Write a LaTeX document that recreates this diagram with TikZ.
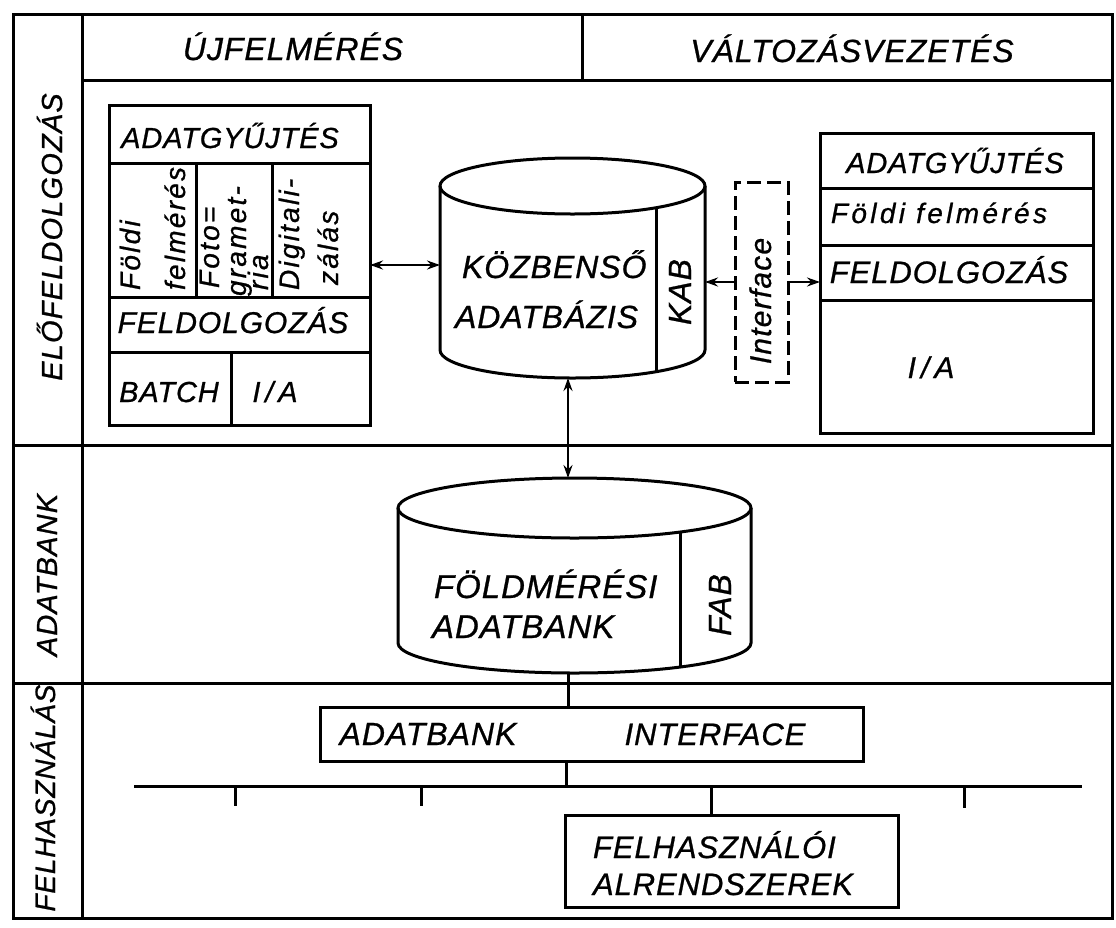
\documentclass[tikz,border=0pt]{standalone}
\usepackage{fontspec}
\setmainfont{Liberation Sans}
\usetikzlibrary{arrows.meta}
\newcommand{\fs}[2][0]{\fontsize{#2}{#2}\selectfont\itshape\addfontfeature{LetterSpace=#1,FakeBold=0.8}}
\begin{document}
\begin{tikzpicture}[x=1pt,y=-1pt,
  ln/.style={line width=3pt},
  frame/.style={draw, line width=3pt, inner sep=0pt, outer sep=0pt},
  ghost/.style={inner sep=0pt, outer sep=0pt},
  txt/.style={inner sep=0pt, outer sep=0pt, anchor=base},
  txtw/.style={inner sep=0pt, outer sep=0pt, anchor=base west},
  rtxt/.style={inner sep=0pt, outer sep=0pt, anchor=base, rotate=90},
  rtxtw/.style={inner sep=0pt, outer sep=0pt, anchor=base west, rotate=90},
  cell/.style={rtxtw, font={\fs[8]{28}}},
  tip/.style={line width=2.4pt},
  >={Stealth[length=13pt,width=9pt]},
]
\useasboundingbox (0,0) rectangle (1116,927);
% outer grid
\draw[ln] (13,14) rectangle (1112,918);
\draw[ln] (82,14) -- (82,918);
\draw[ln] (82,80) -- (1112,80);
\draw[ln] (582,14) -- (582,80);
\draw[ln] (13,445) -- (1112,445);
\draw[ln] (13,683) -- (1112,683);
% header labels
\node[txt, font={\fs[3]{32}}] (hnew) at (293,60) {ÚJFELMÉRÉS};
\node[txt, font={\fs[3]{32}}] (hchg) at (852,62) {VÁLTOZÁSVEZETÉS};
% side labels
\node[rtxt, font={\fs[4]{29}}] (sPre) at (62,237) {ELŐFELDOLGOZÁS};
\node[rtxt, font={\fs[4]{29}}] (sBank) at (57,575) {ADATBANK};
\node[rtxt, font={\fs[3]{28}}] (sUse) at (55,798) {FELHASZNÁLÁS};
% left box
\node[frame, minimum width=261pt, minimum height=320pt] (lbox) at (239.5,265) {};
\draw[ln] (109,163) -- (370,163);
\draw[ln] (109,297) -- (370,297);
\draw[ln] (109,352) -- (370,352);
\draw[ln] (196,163) -- (196,297);
\draw[ln] (272,163) -- (272,297);
\draw[ln] (231,352) -- (231,425);
\node[txt, font={\fs[3]{29}}] (lcoll) at (230,148) {ADATGYŰJTÉS};
\node[txt, font={\fs[3]{30}}] (lproc) at (233,333) {FELDOLGOZÁS};
\node[txt, font={\fs[3]{29}}] (lbatch) at (169,402) {BATCH};
\node[txt, font={\fs[3]{29}}] (lia) at (275,402) {I\,/\,A};
\node[cell] (c1a) at (140,290) {Földi};
\node[cell] (c1b) at (185,290) {felmérés};
\node[cell] (c2a) at (219,288) {Foto=};
\node[cell] (c2b) at (246,296) {gramet-};
\node[cell] (c2c) at (268,290) {ria};
\node[cell] (c3a) at (299,290) {Digitali-};
\node[cell] (c3b) at (338,285) {zálás};
% KOZBENSO cylinder
\draw[ln] (572.5,186) ellipse [x radius=132.5pt, y radius=28pt];
\draw[ln] (440,186) -- (440,350) arc[start angle=180, end angle=360, x radius=132.5pt, y radius=28pt] -- (705,186);
\draw[ln] (656,207.7) -- (656,371.7);
\node[ghost, minimum width=265pt, minimum height=220pt] (kabn) at (572.5,268) {};
\node[txtw, font={\fs[3]{32}}] (k1) at (462,278) {KÖZBENSŐ};
\node[txtw, font={\fs[3]{32}}] (k2) at (455,328) {ADATBÁZIS};
\node[rtxt, font={\fs[3]{32}}] (kab) at (691,292) {KAB};
% interface
\node[frame, dash pattern=on 14pt off 6pt, minimum width=53pt, minimum height=200pt] (iface) at (761.5,282) {};
\node[rtxt, font={\fs[4]{30}}] (ifl) at (771,301) {Interface};
% right box
\node[frame, minimum width=273pt, minimum height=300pt] (rbox) at (956.5,283) {};
\draw[ln] (820,188) -- (1093,188);
\draw[ln] (820,245) -- (1093,245);
\draw[ln] (820,300) -- (1093,300);
\node[txt, font={\fs[3]{29}}] (rcoll) at (955,173) {ADATGYŰJTÉS};
\node[txt, font={\fs[12]{28}}] (rfld) at (939,223) {Földi felmérés};
\node[txt, font={\fs[3]{31}}] (rproc) at (949,283) {FELDOLGOZÁS};
\node[txt, font={\fs[3]{30}}] (ria) at (931,378) {I\,/\,A};
% FOLDMERESI cylinder
\draw[ln] (574.5,508) ellipse [x radius=176.5pt, y radius=30pt];
\draw[ln] (398,508) -- (398,643) arc[start angle=180, end angle=360, x radius=176.5pt, y radius=30pt] -- (751,508);
\draw[ln] (680,532.1) -- (680,667.1);
\node[ghost, minimum width=353pt, minimum height=195pt] (fabn) at (574.5,575.5) {};
\node[txtw, font={\fs[3]{33}}] (f1) at (434,598) {FÖLDMÉRÉSI};
\node[txtw, font={\fs[3]{33}}] (f2) at (432,638) {ADATBANK};
\node[rtxt, font={\fs[3]{32}}] (fab) at (731,605) {FAB};
% connectors upper
\draw[tip,<->] (lbox.east) -- (lbox.east -| kabn.west);
\draw[tip,<-] (kabn.east |- iface.west) -- (iface.west);
\draw[tip,->] (iface.east) -- (iface.east -| rbox.west);
\coordinate (vx) at (568,0);
\draw[tip,<->] (vx |- kabn.south) -- (vx |- fabn.north);
% adatbank interface box
\node[frame, minimum width=543pt, minimum height=54pt] (dbif) at (591.5,734) {};
\node[txt, font={\fs[3]{32}}] (dbif1) at (428,745) {ADATBANK};
\node[txt, font={\fs[3]{31}}] (dbif2) at (715,745) {INTERFACE};
\draw[ln] (vx |- fabn.south) -- (vx |- dbif.north);
% bus
\coordinate (busL) at (134,786);
\coordinate (busR) at (1082,786);
\draw[ln] (busL) -- (busR);
\coordinate (dx) at (566,786);
\draw[ln] (dx |- dbif.south) -- (dx);
\coordinate (t1) at (235,806);
\coordinate (t2) at (421,806);
\coordinate (t3) at (964,808);
\draw[ln] (t1 |- busL) -- (t1);
\draw[ln] (t2 |- busL) -- (t2);
\draw[ln] (t3 |- busL) -- (t3);
% user subsystems
\node[frame, minimum width=333pt, minimum height=92pt] (felh) at (731.5,861) {};
\coordinate (tf) at (711,786);
\draw[ln] (tf) -- (tf |- felh.north);
\node[txtw, font={\fs[3]{31}}] (u1) at (593,858) {FELHASZNÁLÓI};
\node[txtw, font={\fs[3]{31}}] (u2) at (593,895) {ALRENDSZEREK};
\end{tikzpicture}
\end{document}
